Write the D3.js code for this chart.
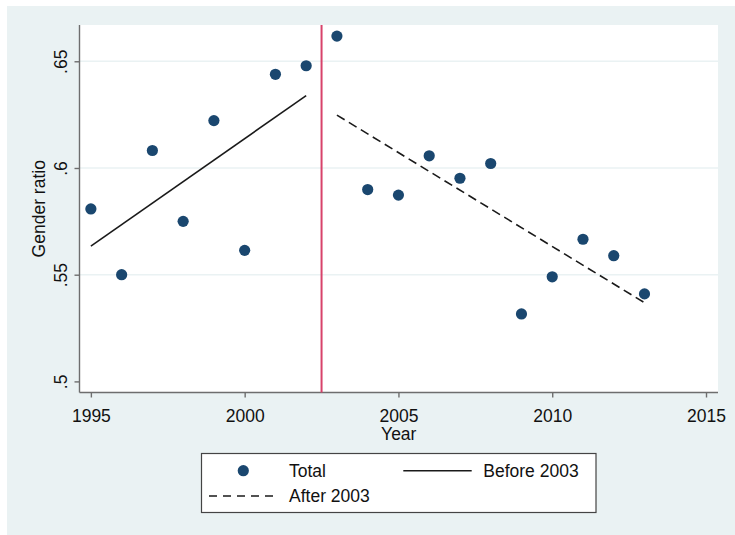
<!DOCTYPE html>
<html>
<head>
<meta charset="utf-8">
<script src="https://cdn.jsdelivr.net/npm/d3@7"></script>
<style>
  html, body { margin: 0; padding: 0; background: #ffffff; }
  svg { display: block; font-family: "Liberation Sans", Arial, sans-serif; }
</style>
</head>
<body>
<svg id="chart" width="735" height="535"></svg>
<script>
// Gender ratio by year
const years = [1995, 1996, 1997, 1998, 1999, 2000, 2001, 2002, 2003, 2004,
               2005, 2006, 2007, 2008, 2009, 2010, 2011, 2012, 2013];
const ratio = [0.5808, 0.5500, 0.6082, 0.5750, 0.6222, 0.5614, 0.6439, 0.6479, 0.6618, 0.5899,
               0.5873, 0.6057, 0.5952, 0.6021, 0.5316, 0.5490, 0.5666, 0.5589, 0.5410];
const breakYear = 2002.5;
const xTicks = [1995, 2000, 2005, 2010, 2015];
const yTicks = [0.5, 0.55, 0.6, 0.65];
const yTickLabels = [".5", ".55", ".6", ".65"];
const legendLabels = ["Total", "Before 2003", "After 2003"];

const fontSize = 17.5;
const svg = d3.select("#chart");

// outer panel
svg.append("rect").attr("x", 7).attr("y", 6).attr("width", 728).attr("height", 529)
  .attr("fill", "#eaf2f3");

const plot = { left: 79.5, right: 718, top: 25, bottom: 392.5 };
svg.append("rect").attr("x", plot.left).attr("y", plot.top)
  .attr("width", plot.right - plot.left).attr("height", plot.bottom - plot.top)
  .attr("fill", "#ffffff");

const x = d3.scaleLinear().domain([1994.63, 2015.39]).range([plot.left, plot.right]);
const y = d3.scaleLinear().domain([0.4948, 0.667]).range([plot.bottom, plot.top]);

// horizontal grid
svg.append("g").selectAll("line").data(yTicks.filter(v => v > 0.5)).join("line")
  .attr("x1", plot.left).attr("x2", plot.right)
  .attr("y1", d => y(d)).attr("y2", d => y(d))
  .attr("stroke", "#eaf2f3").attr("stroke-width", 1.5);

// axes
const axisColor = "#6e6e6e";
const xAxis = svg.append("g").attr("transform", `translate(0,${plot.bottom})`)
  .call(d3.axisBottom(x).tickValues(xTicks).tickFormat(d3.format("d")).tickSize(5).tickPadding(6));
const yAxis = svg.append("g").attr("transform", `translate(${plot.left},0)`)
  .call(d3.axisLeft(y).tickValues(yTicks).tickFormat((d, i) => yTickLabels[i]).tickSize(5));
[xAxis, yAxis].forEach(g => {
  g.select(".domain").attr("stroke", axisColor).attr("stroke-width", 1.4);
  g.selectAll(".tick line").attr("stroke", axisColor).attr("stroke-width", 1.4);
  g.selectAll("text").attr("fill", "#111").style("font-size", fontSize + "px")
    .style("font-family", "'Liberation Sans', Arial, sans-serif");
});
// extend the x domain line to the full plot width, y domain to full height
xAxis.select(".domain").attr("d", `M${plot.left},0H${plot.right}`);
yAxis.select(".domain").attr("d", `M0,${plot.top}V${plot.bottom}`);
xAxis.selectAll(".tick text").attr("y", null).attr("dy", null)
  .attr("transform", "translate(0,29.2)");
yAxis.selectAll(".tick text")
  .attr("x", null).attr("dy", null)
  .attr("text-anchor", "middle")
  .attr("transform", "translate(-12.8,0) rotate(-90)");

// axis titles
svg.append("text").attr("x", (plot.left + plot.right) / 2).attr("y", 440)
  .attr("text-anchor", "middle").attr("fill", "#111").style("font-size", fontSize + "px")
  .text("Year");
svg.append("text").attr("transform", `translate(45,${(plot.top + plot.bottom) / 2}) rotate(-90)`)
  .attr("text-anchor", "middle").attr("fill", "#111").style("font-size", fontSize + "px")
  .text("Gender ratio");

// least-squares fit over a subset of years
function fit(xs, ys) {
  const mx = d3.mean(xs), my = d3.mean(ys);
  const b = d3.sum(xs, (v, i) => (v - mx) * (ys[i] - my)) / d3.sum(xs, v => (v - mx) ** 2);
  const a = my - b * mx;
  const x0 = d3.min(xs), x1 = d3.max(xs);
  return [[x0, a + b * x0], [x1, a + b * x1]];
}
const beforeIdx = years.map((v, i) => i).filter(i => years[i] < 2003);
const afterIdx = years.map((v, i) => i).filter(i => years[i] >= 2003);
const fitBefore = fit(beforeIdx.map(i => years[i]), beforeIdx.map(i => ratio[i]));
const fitAfter = fit(afterIdx.map(i => years[i]), afterIdx.map(i => ratio[i]));

const line = d3.line().x(d => x(d[0])).y(d => y(d[1]));
svg.append("path").attr("d", line(fitBefore)).attr("fill", "none")
  .attr("stroke", "#1a1a1a").attr("stroke-width", 1.6);
svg.append("path").attr("d", line(fitAfter)).attr("fill", "none")
  .attr("stroke", "#1a1a1a").attr("stroke-width", 1.6).attr("stroke-dasharray", "9,5");

// break line
svg.append("line").attr("x1", x(breakYear)).attr("x2", x(breakYear))
  .attr("y1", plot.top).attr("y2", plot.bottom)
  .attr("stroke", "#d8426a").attr("stroke-width", 2);

// points
const pointColor = "#1a476f";
svg.append("g").selectAll("circle").data(years).join("circle")
  .attr("cx", d => x(d)).attr("cy", (d, i) => y(ratio[i])).attr("r", 5.6)
  .attr("fill", pointColor);

// legend
const lg = svg.append("g");
lg.append("rect").attr("x", 201.5).attr("y", 453.5).attr("width", 394.5).attr("height", 59)
  .attr("fill", "#ffffff").attr("stroke", "#444").attr("stroke-width", 1.2);
const row1 = 470.7, row2 = 496;
lg.append("circle").attr("cx", 243.3).attr("cy", row1).attr("r", 5.6).attr("fill", pointColor);
lg.append("line").attr("x1", 403.3).attr("x2", 471.7).attr("y1", row1).attr("y2", row1)
  .attr("stroke", "#1a1a1a").attr("stroke-width", 1.6);
lg.append("line").attr("x1", 209).attr("x2", 277.3).attr("y1", row2).attr("y2", row2)
  .attr("stroke", "#1a1a1a").attr("stroke-width", 1.6).attr("stroke-dasharray", "8,6");
const legendPos = [[289, row1], [483.3, row1], [289, row2]];
lg.selectAll("text").data(legendLabels).join("text")
  .attr("x", (d, i) => legendPos[i][0]).attr("y", (d, i) => legendPos[i][1])
  .attr("dy", "0.35em").attr("fill", "#111").style("font-size", fontSize + "px")
  .text(d => d);
</script>
</body>
</html>
